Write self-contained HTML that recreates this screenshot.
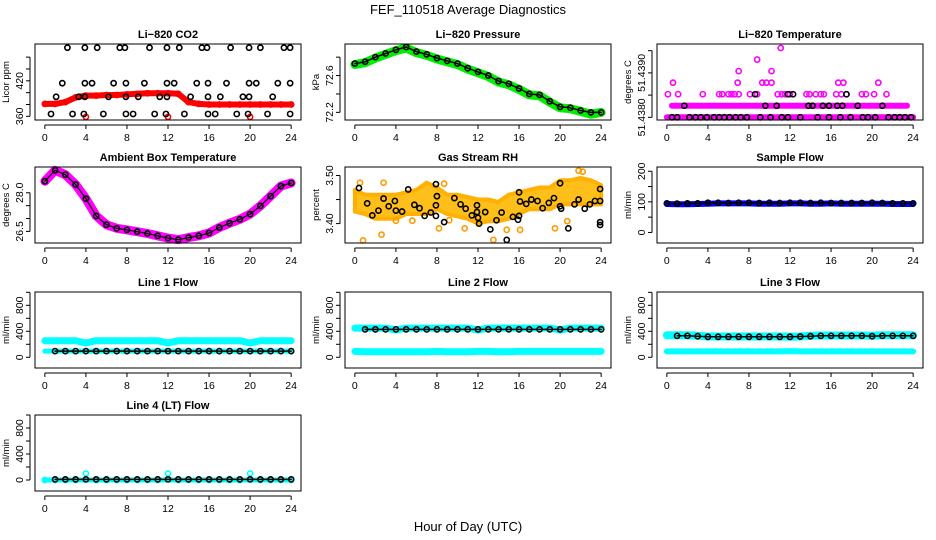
<!DOCTYPE html>
<html><head><meta charset="utf-8">
<style>
html,body{margin:0;padding:0;background:#fff;}
svg{display:block;font-family:"Liberation Sans",sans-serif;}
</style></head>
<body>
<svg id="chart" width="936" height="540" viewBox="0 0 936 540">
<text x="468" y="14" text-anchor="middle" font-size="13">FEF_110518  Average Diagnostics</text>
<text x="468" y="531" text-anchor="middle" font-size="13">Hour of Day (UTC)</text>
</svg>
<script>
// ---------- data ----------
const hours = [0,1,2,3,4,5,6,7,8,9,10,11,12,13,14,15,16,17,18,19,20,21,22,23,24];
const xTicks = [0,4,8,12,16,20,24];
// CO2
const co2Red = [381,381,384,392,395,395,396,396,397,398,399,399,399,398,384,381,380,380,380,380,380,380,380,380,380];
const co2OutHours = [4,12,20];
const co2OutVals = [359,359,359];
const co2BlkHours = [2.2,3.9,5.1,7.3,7.8,10.2,11.9,13.1,15.3,15.8,18.1,19.9,21.0,23.3,23.9,
 1.7,3.9,4.6,6.7,7.9,9.7,11.9,12.6,14.8,15.9,17.7,19.9,20.6,22.7,23.9,
 1.1,3.3,3.9,6.2,7.9,9.1,11.2,11.9,14.2,15.9,17.1,19.3,19.9,22.2,
 0.6,2.7,3.8,5.7,7.9,8.6,10.7,11.8,13.6,15.9,16.6,18.7,19.8,21.7,23.9];
const co2BlkVals = [476,476,476,476,476,476,476,476,476,476,476,476,476,476,476,
 416,416,416,416,416,416,416,416,416,416,416,416,416,416,416,
 393,393,393,393,393,393,393,393,393,393,393,393,393,393,
 364,364,364,364,364,364,364,364,364,364,364,364,364,364,364];
// Pressure
const presGreen = [72.72,72.74,72.79,72.83,72.87,72.90,72.85,72.82,72.78,72.75,72.72,72.67,72.63,72.59,72.53,72.50,72.45,72.39,72.38,72.31,72.25,72.24,72.21,72.18,72.20];
const presBlack = [72.73,72.75,72.80,72.84,72.88,72.91,72.86,72.83,72.79,72.76,72.73,72.68,72.64,72.60,72.54,72.51,72.46,72.40,72.39,72.32,72.26,72.25,72.22,72.20,72.20];
// Li-820 temperature (discrete levels)
const tempBase = 51.4380;
const tempStep = 0.00026;
const tempBandStart = [0,0.5];
const tempBandEnd = [24,23.4];
const tempBandLevel = [0,1];
const tempMagHours = [0.1,1.1,3.5,5.1,5.4,6.0,6.3,6.6,7.0,8.1,8.8,10.8,11.2,11.5,12.0,13.6,13.9,14.5,15.0,15.3,16.5,17.0,17.5,19.0,19.4,20.2,21.4,
 0.6,6.9,9.3,9.7,10.2,16.7,17.2,20.6, 7.0,10.2, 8.8, 11.1];
const tempMagLevels = [2,2,2,2,2,2,2,2,2,2,2,2,2,2,2,2,2,2,2,2,2,2,2,2,2,2,2,
 3,3,3,3,3,3,3,3, 4,4, 5, 6];
const tempBlkHours = [0.5,1.0,2.2,2.8,3.3,3.9,4.6,5.1,5.6,6.1,6.7,7.2,7.8,9.1,10.1,11.2,11.8,13.0,14.7,15.8,16.9,17.9,19.1,19.6,20.3,21.6,22.2,22.7,23.2,23.8,
 1.7,9.6,10.7,13.8,14.2,15.2,15.8,16.6,17.1,18.6,21.0, 8.6,11.8,12.3,17.5];
const tempBlkLevels = [0,0,0,0,0,0,0,0,0,0,0,0,0,0,0,0,0,0,0,0,0,0,0,0,0,0,0,0,0,0,
 1,1,1,1,1,1,1,1,1,1,1, 2,2,2,2];
// Ambient box temperature
const ambMag = [28.45,28.87,28.70,28.32,27.77,27.10,26.76,26.62,26.56,26.49,26.42,26.33,26.24,26.18,26.26,26.33,26.44,26.65,26.82,26.97,27.17,27.49,27.87,28.26,28.38];
// Gas stream RH
const rhLow = [3.425,3.42,3.41,3.41,3.41,3.42,3.42,3.42,3.43,3.42,3.415,3.41,3.40,3.405,3.405,3.41,3.42,3.43,3.43,3.43,3.44,3.44,3.44,3.44,3.44];
const rhHigh = [3.47,3.46,3.46,3.46,3.46,3.465,3.47,3.485,3.475,3.46,3.46,3.455,3.45,3.45,3.445,3.46,3.465,3.47,3.475,3.475,3.49,3.49,3.495,3.49,3.48];
const rhOutHours = [0.5,0.8,2.6,2.8,4.0,5.6,8.2,8.7,9.2,10.7,13.5,14.8,16.1,19.5,20.7,21.8,22.2];
const rhOutVals = [3.485,3.365,3.377,3.485,3.406,3.406,3.39,3.483,3.407,3.39,3.366,3.387,3.387,3.39,3.405,3.51,3.508];
const rhBlkHours = [0.4,1.2,1.7,2.3,2.8,3.3,3.9,4.0,4.6,5.2,5.8,6.3,6.8,7.4,7.9,7.9,8.0,7.9,8.7,9.7,10.3,10.8,11.4,11.9,11.9,12.0,12.1,12.7,13.2,13.8,14.3,14.8,15.4,15.9,16.0,16.0,16.1,16.7,17.2,17.8,18.3,18.9,19.4,20.0,20.0,20.1,20.8,21.4,21.8,22.4,22.9,23.4,23.9,23.9,23.9,23.9];
const rhBlkVals = [3.474,3.442,3.417,3.427,3.452,3.436,3.447,3.427,3.425,3.471,3.439,3.432,3.416,3.423,3.438,3.482,3.457,3.416,3.403,3.453,3.44,3.431,3.417,3.438,3.424,3.412,3.40,3.424,3.388,3.407,3.423,3.366,3.414,3.408,3.416,3.465,3.446,3.441,3.45,3.447,3.432,3.443,3.453,3.484,3.436,3.431,3.39,3.44,3.45,3.431,3.44,3.447,3.447,3.472,3.403,3.397];
// Sample flow
const sampBlue = [93,92,92,93,94,95,95,95,95,94,94,94,95,95,94,94,95,94,94,94,94,94,93,93,93];
const sampBlack = [95,94,95,95,97,97,96,97,97,96,97,96,97,97,96,97,96,96,96,96,97,96,95,95,95];
// Line flows
const l1Top = [255,255,255,255,220,255,255,255,255,255,255,255,220,255,255,255,255,255,255,255,220,255,255,255,255];
const l1Low = [95,95,95,95,95,95,95,95,95,95,95,95,95,95,95,95,95,95,95,95,95,95,95,95,95];
const l1Black = [95,95,95,95,95,95,95,95,95,95,95,95,95,95,95,95,95,95,95,95,95,95,95,95,95];
const l2Top = [450,450,450,450,420,450,450,450,450,450,450,450,420,450,450,450,450,450,450,450,420,450,450,450,450];
const l2Low = [90,85,85,85,85,85,85,85,90,85,85,85,90,90,85,85,90,90,90,90,90,90,90,90,90];
const l2Black = [430,430,430,430,430,430,430,430,430,430,430,430,430,430,430,430,430,430,430,430,430,430,430,430,430];
const l3Top = [340,340,340,330,320,320,320,320,320,320,320,320,315,320,330,335,335,335,335,335,330,340,340,340,340];
const l3Low = [90,90,90,90,90,90,90,90,90,90,90,90,95,90,90,90,90,90,90,90,90,90,90,90,90];
const l3Black = [330,330,330,325,315,315,315,315,315,315,315,315,315,320,325,330,330,330,330,330,325,330,330,330,330];
const l4Cyan = [0,0,0,0,100,0,0,0,0,0,0,0,100,0,0,0,0,0,0,0,100,0,0,0,0];
const l4Black = [10,10,10,10,10,10,10,10,10,10,10,10,10,10,10,10,10,10,10,10,10,10,10,10,10];

// ---------- drawing ----------
const NS = 'http://www.w3.org/2000/svg';
const svg = document.getElementById('chart');
const colLeft = [35,345,657];
const rowTop = [44,167,292,415];
const BW = 266, BH = 76;

function mk(tag, parent, attrs){
  const e = document.createElementNS(NS, tag);
  for (const k in attrs) e.setAttribute(k, attrs[k]);
  parent.appendChild(e);
  return e;
}

function panel(col,row,name,title,ytitle,ymin,ymax,yticks,ylabels){
  const L = colLeft[col], T = rowTop[row];
  const g = mk('g', svg, {});
  
  
  const xs = h => L + (h + 0.96) / 25.92 * BW;
  const ys = v => T + BH - (v - ymin) / (ymax - ymin) * BH;
  const plot = mk('g', g, {});
  
  
  const box = mk('rect', g, {x:L, y:T, width:BW, height:BH, fill:'none', stroke:'#000', 'stroke-width':1});
  
  
  const t = mk('text', g, {x:L+BW/2, y:T-6, 'text-anchor':'middle', 'font-size':11, 'font-weight':'bold'});
  t.textContent = title;
  
  
  const xa = mk('g', g, {stroke:'#000','stroke-width':1});
  
  
  mk('line', xa, {x1:xs(0), x2:xs(24), y1:T+BH+5, y2:T+BH+5});
  xTicks.forEach(h => {
    mk('line', xa, {x1:xs(h), x2:xs(h), y1:T+BH+5, y2:T+BH+9});
    const tl = mk('text', g, {x:xs(h), y:T+BH+21, 'text-anchor':'middle', 'font-size':10.5});
    tl.textContent = String(h);
    
    
  });
  const ya = mk('g', g, {stroke:'#000','stroke-width':1});
  
  
  mk('line', ya, {x1:L-5, x2:L-5, y1:ys(yticks[0]), y2:ys(yticks[yticks.length-1])});
  yticks.forEach(v => mk('line', ya, {x1:L-9, x2:L-5, y1:ys(v), y2:ys(v)}));
  ylabels.forEach(lb => {
    const yy = ys(parseFloat(lb));
    const tl = mk('text', g, {x:L-12, y:yy, 'text-anchor':'middle', 'font-size':10.5, transform:'rotate(-90 '+(L-12)+' '+yy+')'});
    tl.textContent = lb;
    
    
  });
  const yt = mk('text', g, {x:L-26, y:T+BH/2, 'text-anchor':'middle', 'font-size':9.5, transform:'rotate(-90 '+(L-26)+' '+(T+BH/2)+')'});
  yt.textContent = ytitle;
  
  
  return {g:plot, xs, ys};
}

function band(p, hs, vs, color, w, nm){
  const pts = hs.map((h,i)=>p.xs(h).toFixed(1)+','+p.ys(vs[i]).toFixed(1)).join(' ');
  const pl = mk('polyline', p.g, {points:pts, fill:'none', stroke:color, 'stroke-width':w, 'stroke-linejoin':'round', 'stroke-linecap':'round'});
  
  
}
function pts(p, hs, vs, color, nm, r){
  hs.forEach((h,i)=>{
    const c = mk('circle', p.g, {cx:p.xs(h), cy:p.ys(vs[i]), r:r||2.6, fill:'none', stroke:color, 'stroke-width':1.6});
    
    
  });
}

// CO2
let p = panel(0,0,'co2','Li\u2212820 CO2','Licor ppm',353.8,482.2,[360,380,400,420,440,460],['360','420']);
band(p, hours, co2Red, '#ff0000', 6, 'co2-red-series');
pts(p, hours, co2Red, '#ff0000', 'co2-red-point');
pts(p, co2OutHours, co2OutVals, '#ff0000', 'co2-red-outlier');
pts(p, co2BlkHours, co2BlkVals, '#000', 'co2-black-point');

// Pressure
p = panel(1,0,'pressure','Li\u2212820 Pressure','kPa',72.117,72.943,[72.2,72.4,72.6,72.8],['72.2','72.6']);
band(p, hours, presGreen, '#00ee00', 9, 'pressure-green-series');
pts(p, hours, presGreen, '#00ee00', 'pressure-green-point');
band(p, hours, presBlack, '#000', 1.5, 'pressure-black-line');
pts(p, hours, presBlack, '#000', 'pressure-black-point');

// Li-820 Temperature
p = panel(2,0,'li820-temp','Li\u2212820 Temperature','degrees C',51.43794,51.43965,[51.4380,51.4385,51.4390,51.4395],['51.4380','51.4390']);
tempBandLevel.forEach((lv,i)=>{
  band(p, [tempBandStart[i], tempBandEnd[i]], [tempBase+lv*tempStep, tempBase+lv*tempStep], '#ff00ff', 6, 'li820-temp-magenta-band');
});
pts(p, tempMagHours, tempMagLevels.map(l=>tempBase+l*tempStep), '#ff00ff', 'li820-temp-magenta-point');
pts(p, tempBlkHours, tempBlkLevels.map(l=>tempBase+l*tempStep), '#000', 'li820-temp-black-point');

// Ambient
p = panel(0,1,'ambient-temp','Ambient Box Temperature','degrees C',26.05,29.0,[26.5,27.0,27.5,28.0],['26.5','28.0']);
band(p, hours, ambMag, '#ff00ff', 9, 'ambient-magenta-series');
band(p, hours, ambMag, '#000', 1.2, 'ambient-black-line');
pts(p, hours, ambMag, '#000', 'ambient-black-point');

// RH
p = panel(1,1,'gas-rh','Gas Stream RH','percent',3.3596,3.5177,[3.40,3.45,3.50],['3.40','3.50']);
{
  const up = hours.map((h,i)=>p.xs(h).toFixed(1)+','+p.ys(rhHigh[i]).toFixed(1));
  const dn = hours.map((h,i)=>p.xs(h).toFixed(1)+','+p.ys(rhLow[i]).toFixed(1)).reverse();
  const poly = mk('polygon', p.g, {points:up.concat(dn).join(' '), fill:'#ffbf1a', stroke:'#ffb000', 'stroke-width':4, 'stroke-linejoin':'round'});
  
  
}
pts(p, rhOutHours, rhOutVals, '#ff9900', 'gas-rh-orange-outlier');
pts(p, rhBlkHours, rhBlkVals, '#000', 'gas-rh-black-point');

// Sample flow
p = panel(2,1,'sample-flow','Sample Flow','ml/min',-34.5,213.9,[0,50,100,150,200],['0','100','200']);
band(p, hours, sampBlue, '#0000ff', 6, 'sample-flow-blue-series');
band(p, hours, sampBlack, '#000', 1.5, 'sample-flow-black-line');
pts(p, hours, sampBlack, '#000', 'sample-flow-black-point');

const fT = [0,200,400,600,800,1000];
const fL = ['0','400','800'];
// Line 1
p = panel(0,2,'line1-flow','Line 1 Flow','ml/min',-165,1005,fT,fL);
band(p, hours, l1Top, '#00ffff', 7, 'line1-cyan-upper');
band(p, hours, l1Low, '#00ffff', 5, 'line1-cyan-lower');
band(p, hours.slice(1), l1Black.slice(1), '#000', 1.5, 'line1-black-line');
pts(p, hours.slice(1), l1Black.slice(1), '#000', 'line1-black-point');
// Line 2
p = panel(1,2,'line2-flow','Line 2 Flow','ml/min',-165,1005,fT,fL);
band(p, hours, l2Top, '#00ffff', 7, 'line2-cyan-upper');
band(p, hours, l2Low, '#00ffff', 7, 'line2-cyan-lower');
band(p, hours.slice(1), l2Black.slice(1), '#000', 1.5, 'line2-black-line');
pts(p, hours.slice(1), l2Black.slice(1), '#000', 'line2-black-point');
// Line 3
p = panel(2,2,'line3-flow','Line 3 Flow','ml/min',-165,1005,fT,fL);
band(p, hours, l3Top, '#00ffff', 8, 'line3-cyan-upper');
band(p, hours, l3Low, '#00ffff', 6, 'line3-cyan-lower');
band(p, hours.slice(1), l3Black.slice(1), '#000', 1.5, 'line3-black-line');
pts(p, hours.slice(1), l3Black.slice(1), '#000', 'line3-black-point');
// Line 4
p = panel(0,3,'line4-flow','Line 4 (LT) Flow','ml/min',-169,1000,fT,fL);
band(p, hours, hours.map(()=>0), '#00ffff', 5, 'line4-cyan-series');
pts(p, hours, l4Cyan, '#00ffff', 'line4-cyan-point');
band(p, hours.slice(1), l4Black.slice(1), '#000', 1.5, 'line4-black-line');
pts(p, hours.slice(1), l4Black.slice(1), '#000', 'line4-black-point');
</script>
</body></html>
